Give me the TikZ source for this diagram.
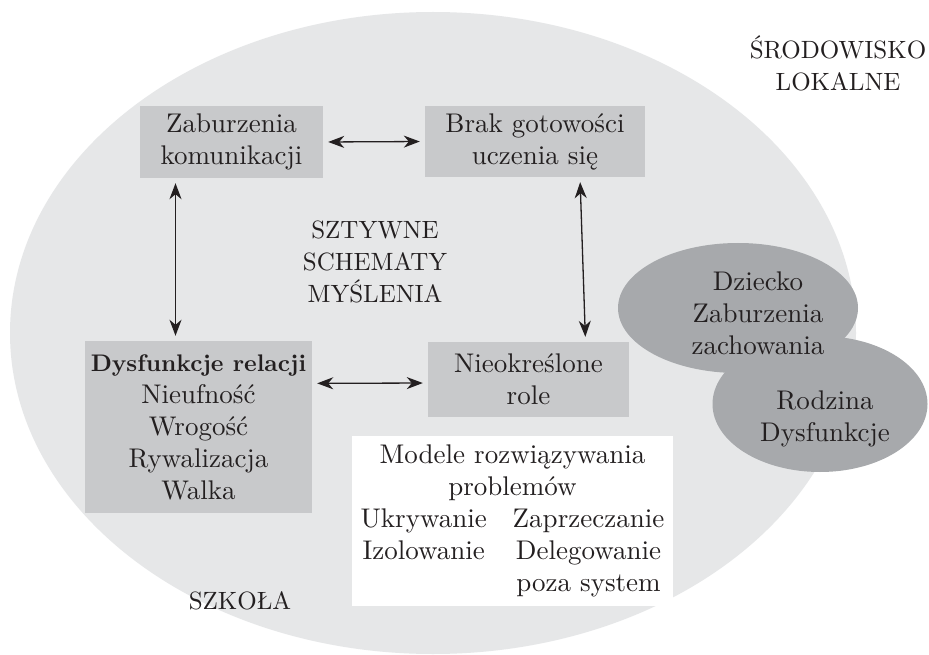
\documentclass[tikz,border=0pt]{standalone}
\usepackage{fontspec}
\setmainfont{lmroman10-regular.otf}[BoldFont=lmroman10-bold.otf]
\usepackage{tikz}
\usetikzlibrary{arrows.meta,shapes.geometric}

\definecolor{envgray}{HTML}{E6E7E8}
\definecolor{boxgray}{HTML}{C8C9CB}
\definecolor{blobgray}{HTML}{A7A9AC}
\definecolor{ink}{HTML}{231F20}

\tikzset{
  txt/.style={align=center, inner sep=0pt, text=ink, font=\fontsize{27}{32}\selectfont},
  caps/.style={txt, font=\fontsize{25}{32}\selectfont},
  box/.style={txt, fill=boxgray},
  blob/.style={ellipse, fill=blobgray, inner sep=0pt},
  link/.style={{Stealth[length=16pt,width=12pt,inset=5pt]}-{Stealth[length=16pt,width=12pt,inset=5pt]},
    line width=1.3pt, draw=ink, shorten <=5pt, shorten >=5pt},
}

\begin{document}
\begin{tikzpicture}[x=1pt,y=-1pt]
    % Page
    \fill[white] (0,0) rectangle (929,655);
    \useasboundingbox (0,0) rectangle (929,655);
    % School
    \fill[envgray] (433,333) ellipse [x radius=423pt, y radius=321pt];
    \node[caps] (szkola) at (240,601) {SZKOŁA};
    \node[caps] (srodowisko) at (838,63) {ŚRODOWISKO\\LOKALNE};
    % Child and family
    \node[blob, minimum width=240, minimum height=130] (dziecko) at (738,308) {};
    \node[blob, minimum width=215, minimum height=136] (rodzina) at (820,404) {};
    \node[txt] (dzieckotxt) at (758,313) {Dziecko\\Zaburzenia\\zachowania};
    \node[txt] (rodzinatxt) at (825,419) {Rodzina\\Dysfunkcje};
    % Boxes
    \node[box, minimum width=183, minimum height=72] (zab) at (231.5,142) {Zaburzenia\\komunikacji};
    \node[box, minimum width=220, minimum height=71] (brak) at (535,141.5) {Brak gotowości\\uczenia się};
    \node[box, minimum width=227, minimum height=172] (dys) at (198.5,427)
      {{\fontsize{24}{32}\selectfont\bfseries Dysfunkcje relacji}\\Nieufność\\Wrogość\\Rywalizacja\\Walka};
    \node[box, minimum width=201, minimum height=75] (nie) at (528.5,379.5) {Nieokreślone\\role};
    \node[caps] (sztywne) at (375,262) {SZTYWNE\\SCHEMATY\\MYŚLENIA};
    \node[txt, fill=white, minimum width=321, minimum height=170] (modele) at (512.5,521)
      {\begin{tabular}{@{}c@{\hspace{26pt}}c@{}}
        \multicolumn{2}{c}{Modele rozwiązywania}\\
        \multicolumn{2}{c}{problemów}\\
        Ukrywanie & Zaprzeczanie\\
        Izolowanie & Delegowanie\\
        & poza system
      \end{tabular}};
    % Links
    \draw[link] (zab.east) -- (brak.west);
    \draw[link] ([xshift=-56]zab.south) -- ([xshift=-23]dys.north);
    \draw[link] ([xshift=45]brak.south) -- ([xshift=57]nie.north);
    \draw[link] (dys.21) -- (nie.182);
\end{tikzpicture}
\end{document}
